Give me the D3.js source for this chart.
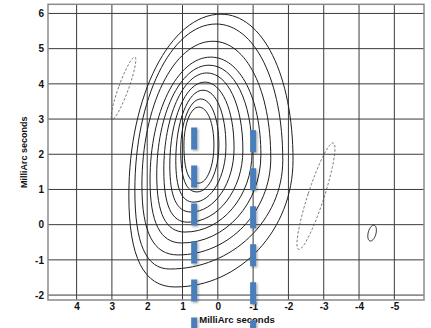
<!DOCTYPE html>
<html><head><meta charset="utf-8">
<script src="https://cdn.jsdelivr.net/npm/d3@7"></script>
<style>body{margin:0;background:#fff}svg{display:block}text{font-family:"Liberation Sans",Arial,sans-serif;font-weight:bold;fill:#111}</style>
</head><body><svg id="c" width="431" height="328"></svg>
<script>
// ---- data (MilliArc seconds) ----
const xTicks = [4,3,2,1,0,-1,-2,-3,-4,-5];
const yTicks = [6,5,4,3,2,1,0,-1,-2];
const axisLabel = "MilliArc seconds";
// positive contour levels, outer -> inner; extreme points [x, y]
const contourTop    = [[-0.09,5.98],[0.05,5.70],[0.14,5.21],[0.20,4.76],[0.25,4.53],[0.31,4.31],[0.37,4.05],[0.42,3.82],[0.48,3.57],[0.54,3.34]];
const contourRight  = [[-2.13,1.83],[-1.84,1.83],[-1.50,1.89],[-1.22,1.98],[-0.97,2.06],[-0.71,2.12],[-0.46,2.18],[-0.23,2.23],[-0.03,2.26],[0.11,2.26]];
const contourBottom = [[1.21,-1.77],[1.36,-1.26],[1.13,-0.86],[1.02,-0.52],[0.93,-0.21],[0.85,0.07],[0.76,0.36],[0.68,0.64],[0.59,0.93],[0.54,1.18]];
const contourLeft   = [[2.52,0.84],[2.35,0.98],[2.15,1.12],[1.92,1.27],[1.73,1.41],[1.53,1.55],[1.36,1.69],[1.19,1.83],[1.05,2.12],[0.96,2.26]];
// negative / small contours: centre x, centre y, semi-major, semi-minor, tilt (deg from vertical), dashed
const blobCx    = [2.67, -2.78, -4.37];
const blobCy    = [3.88, 0.81, -0.24];
const blobMajor = [0.94, 1.59, 0.23];
const blobMinor = [0.14, 0.23, 0.11];
const blobTilt  = [20, 18, 15];
const blobDashed= [true, true, false];
// blue marker lines
const markX  = [0.67, -1.0];
const markY0 = [2.76, 2.68];
const markY1 = [-2.96, -2.96];

// ---- layout ----
const svg = d3.select("#c");
const L = 48, R = 424, T = 4.3, B = 300;
const x = d3.scaleLinear().domain([4.81, -5.84]).range([L, R]);
const y = d3.scaleLinear().domain([6.26, -2.14]).range([T, B]);

const defs = svg.append("defs");
defs.append("clipPath").attr("id","clip")
  .append("rect").attr("x",L).attr("y",T).attr("width",R-L).attr("height",B-T);
const f = defs.append("filter").attr("id","sh").attr("filterUnits","userSpaceOnUse")
  .attr("x",0).attr("y",0).attr("width",431).attr("height",328);
f.append("feDropShadow").attr("dx",1.2).attr("dy",1.2).attr("stdDeviation",1.2).attr("flood-color","#000").attr("flood-opacity",0.35);

// grid
const g = svg.append("g");
g.selectAll(".gx").data(xTicks).join("line")
  .attr("x1",d=>x(d)).attr("x2",d=>x(d)).attr("y1",T).attr("y2",B)
  .attr("stroke","#3a3a3a").attr("stroke-width",1);
g.selectAll(".gy").data(yTicks).join("line")
  .attr("y1",d=>y(d)).attr("y2",d=>y(d)).attr("x1",L).attr("x2",R)
  .attr("stroke","#3a3a3a").attr("stroke-width",1);
g.append("rect").attr("x",L).attr("y",T).attr("width",R-L).attr("height",B-T)
  .attr("fill","none").attr("stroke","#8a8a8a").attr("stroke-width",1.5);

// axes labels via d3 axes
const fmt = d => String(d);
const xAxis = d3.axisBottom(x).tickValues(xTicks).tickSize(0).tickPadding(0).tickFormat(fmt);
const yAxis = d3.axisLeft(y).tickValues(yTicks).tickSize(0).tickPadding(0).tickFormat(fmt);
const ax = svg.append("g").attr("transform",`translate(0,${B+3})`).call(xAxis);
ax.select(".domain").remove();
ax.selectAll("text").attr("font-size",10).attr("dy","0.71em").attr("fill","#111").attr("font-family",null);
const ay = svg.append("g").attr("transform",`translate(${L-4},0)`).call(yAxis);
ay.select(".domain").remove();
ay.selectAll("text").attr("font-size",10).attr("fill","#111").attr("font-family",null);

svg.append("text").attr("x",237).attr("y",323).attr("text-anchor","middle").attr("font-size",9.5).text(axisLabel);
svg.append("text").attr("transform",`translate(27,${(T+B)/2}) rotate(-90)`).attr("text-anchor","middle").attr("font-size",9).text(axisLabel);

// contours
const K = [0.58, 0.55, 0.68, 0.55]; // quadrant fullness: UR, LR, LL, UL
const cg = svg.append("g").attr("clip-path","url(#clip)");
function eggPath(i){
  const t=[x(contourTop[i][0]),y(contourTop[i][1])], r=[x(contourRight[i][0]),y(contourRight[i][1])],
        b=[x(contourBottom[i][0]),y(contourBottom[i][1])], l=[x(contourLeft[i][0]),y(contourLeft[i][1])];
  const p = d3.path();
  p.moveTo(t[0],t[1]);
  p.bezierCurveTo(t[0]+K[0]*(r[0]-t[0]),t[1], r[0],r[1]+K[0]*(t[1]-r[1]), r[0],r[1]);
  p.bezierCurveTo(r[0],r[1]+K[1]*(b[1]-r[1]), b[0]+K[1]*(r[0]-b[0]),b[1], b[0],b[1]);
  p.bezierCurveTo(b[0]+K[2]*(l[0]-b[0]),b[1], l[0],l[1]+K[2]*(b[1]-l[1]), l[0],l[1]);
  p.bezierCurveTo(l[0],l[1]+K[3]*(t[1]-l[1]), t[0]+K[3]*(l[0]-t[0]),t[1], t[0],t[1]);
  p.closePath();
  return p.toString();
}
cg.selectAll(".ct").data(d3.range(contourTop.length)).join("path")
  .attr("d",eggPath).attr("fill","none").attr("stroke","#1e1e1e").attr("stroke-width",1);

function blobPath(i){
  const a = blobTilt[i]*Math.PI/180, pts=[];
  for(let k=0;k<=72;k++){
    const th = k/72*2*Math.PI;
    const u = blobMinor[i]*Math.cos(th), v = blobMajor[i]*Math.sin(th);
    pts.push([x(blobCx[i] + u*Math.cos(a) - v*Math.sin(a)), y(blobCy[i] + u*Math.sin(a) + v*Math.cos(a))]);
  }
  return d3.line()(pts);
}
cg.selectAll(".bl").data(d3.range(blobCx.length)).join("path")
  .attr("d",blobPath).attr("fill","none")
  .attr("stroke",(d)=>blobDashed[d]?"#555":"#1e1e1e")
  .attr("stroke-width",(d)=>blobDashed[d]?0.8:1)
  .attr("stroke-dasharray",(d)=>blobDashed[d]?"2.5,1.8":null);

// blue marker lines
svg.append("g").attr("filter","url(#sh)")
  .selectAll(".mk").data(d3.range(markX.length)).join("line")
  .attr("x1",d=>x(markX[d])).attr("x2",d=>x(markX[d]))
  .attr("y1",d=>y(markY0[d])).attr("y2",d=>y(markY1[d]))
  .attr("stroke","#4a7ebb").attr("stroke-width",6)
  .attr("stroke-dasharray","22,16");
</script></body></html>
